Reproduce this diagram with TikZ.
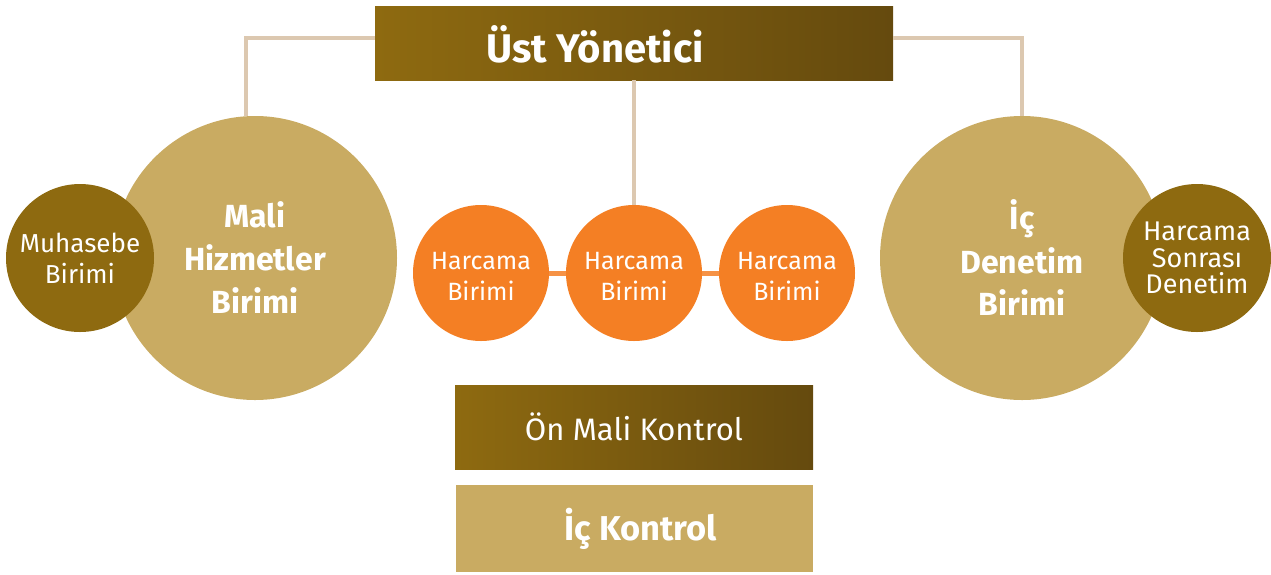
\documentclass[tikz,border=0pt]{standalone}
\usepackage{fontspec}
\setmainfont{Fira Sans}
\usetikzlibrary{positioning}

\definecolor{brownL}{HTML}{8E6A10}
\definecolor{brownR}{HTML}{654A0E}
\definecolor{sand}{HTML}{C9AB62}
\definecolor{darkgold}{HTML}{8E6A10}
\definecolor{harcama}{HTML}{F47F24}
\definecolor{link}{HTML}{DCC8B0}

\begin{document}
\begin{tikzpicture}[
  x=1pt, y=-1pt,
  topbox/.style={rectangle, left color=brownL, right color=brownR, text=white, inner sep=0pt},
  sandbox/.style={rectangle, fill=sand, text=white, inner sep=0pt},
  bigunit/.style={circle, fill=sand, text=white, minimum size=284pt, inner sep=0pt, align=center,
    font=\fontsize{32}{43}\selectfont\bfseries},
  smallunit/.style={circle, fill=darkgold, text=white, minimum size=148pt, inner sep=0pt, align=center},
  spend/.style={circle, fill=harcama, text=white, minimum size=136pt, inner sep=0pt, align=center,
    font=\fontsize{25}{31}\selectfont},
  tie/.style={link, line width=4pt},
  chain/.style={harcama!85!white, line width=5pt}
  ]
    % frame
    \useasboundingbox (0,0) rectangle (1271,574);

    % top
    \node[topbox, minimum width=518pt, minimum height=74pt] (ust) at (634,43) {};
    \node[text=white, font=\fontsize{40}{42}\selectfont\bfseries] (usttxt) at (595,44) {Üst Yönetici};

    % Harcama birimleri
    \draw[chain] (481,273) -- (787,273);
    \node[spend] (h1) at (481,273) {};
    \node[spend] (h2) at (634,273) {};
    \node[spend] (h3) at (787,273) {};
    \foreach \n in {h1,h2,h3}
      \node[text=white, align=center, font=\fontsize{25}{31}\selectfont] at ([yshift=-3pt]\n.center) {Harcama\\Birimi};

    % left side
    \node[bigunit] (mali) at (255,258) {Mali\\Hizmetler\\Birimi};
    \node[smallunit, font=\fontsize{26}{31}\selectfont] (muhasebe) at (80,258) {Muhasebe\\Birimi};
    \coordinate (malitop) at ([xshift=-9pt]mali.north);

    % right side
    \node[bigunit] (icdenetim) at (1022,258) {İç\\Denetim\\Birimi};
    \node[smallunit, font=\fontsize{27}{26.5}\selectfont] (sonra) at (1197,258) {Harcama\\Sonrası\\Denetim};

    % links
    \draw[tie] ([yshift=5pt]ust.west) -| (malitop);
    \draw[tie] ([yshift=5pt]ust.east) -| (icdenetim.north);
    \draw[tie] (ust.south) -- (h2.north);

    % bottom boxes
    \node[topbox, minimum width=358pt, minimum height=84pt, font=\fontsize{31}{33}\selectfont] (onmali) at (634,427) {Ön Mali Kontrol};
    \node[sandbox, minimum width=357pt, minimum height=87pt] (ickontrol) at (634.5,528.5) {};
    \node[text=white, font=\fontsize{34.5}{36}\selectfont\bfseries] (ickontroltxt) at ([xshift=6pt]ickontrol.center) {İç Kontrol};

\end{tikzpicture}
\end{document}
